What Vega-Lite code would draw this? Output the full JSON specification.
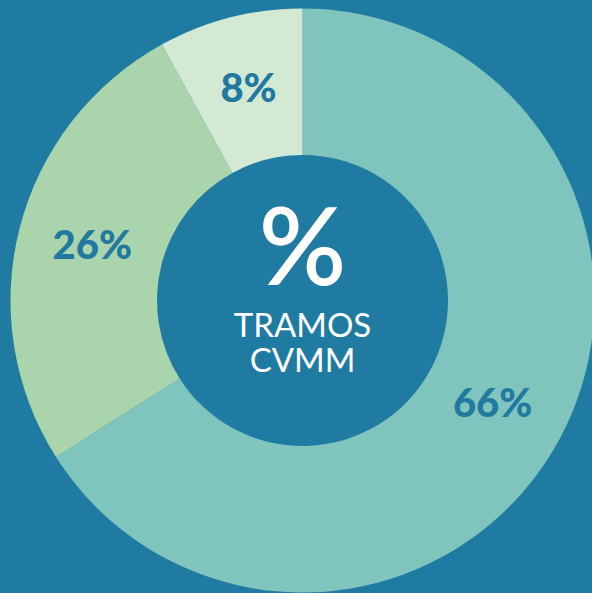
{
  "$schema": "https://vega.github.io/schema/vega-lite/v6.json",
  "width": 579,
  "height": 585,
  "padding": {"left": 13, "top": 8, "right": 0, "bottom": 0},
  "autosize": {"type": "none"},
  "background": "#1f7ba1",
  "config": {"view": {"stroke": null}},
  "datasets": {
    "tramos": [
      {"tramo": "A", "pct": 66, "label": "66%", "orden": 1},
      {"tramo": "B", "pct": 26, "label": "26%", "orden": 2},
      {"tramo": "C", "pct": 8, "label": "8%", "orden": 3}
    ],
    "centro": [
      {"texto": "%", "linea": 0},
      {"texto": "TRAMOS\nCVMM", "linea": 1}
    ]
  },
  "layer": [
    {
      "data": {"name": "tramos"},
      "mark": {"type": "arc", "outerRadius": 292, "innerRadius": 145.5},
      "encoding": {
        "theta": {"field": "pct", "type": "quantitative", "stack": true},
        "order": {"field": "orden", "type": "quantitative"},
        "color": {
          "field": "tramo", "type": "nominal",
          "scale": {"domain": ["A", "B", "C"], "range": ["#7fc4bd", "#a9d4ac", "#d4e9d3"]},
          "legend": null
        }
      }
    },
    {
      "data": {"name": "tramos"},
      "mark": {"type": "text", "radius": 217, "font": "Lato", "fontWeight": 900, "fontSize": 40, "color": "#2279a0", "baseline": "middle", "align": "center"},
      "encoding": {
        "theta": {"field": "pct", "type": "quantitative", "stack": true},
        "order": {"field": "orden", "type": "quantitative"},
        "text": {"field": "label"}
      }
    },
    {
      "data": {"name": "centro"},
      "transform": [{"filter": "datum.linea == 0"}],
      "mark": {"type": "text", "font": "Lato", "fontWeight": 600, "fontSize": 108, "color": "#ffffff", "baseline": "middle", "align": "center", "dy": -48},
      "encoding": {"text": {"field": "texto"}}
    },
    {
      "data": {"name": "centro"},
      "transform": [{"filter": "datum.linea == 1"}],
      "mark": {"type": "text", "font": "Lato", "fontWeight": "normal", "fontSize": 33, "lineHeight": 35, "lineBreak": "\n", "color": "#ffffff", "baseline": "middle", "align": "center", "dy": 26},
      "encoding": {"text": {"field": "texto"}}
    }
  ]
}
